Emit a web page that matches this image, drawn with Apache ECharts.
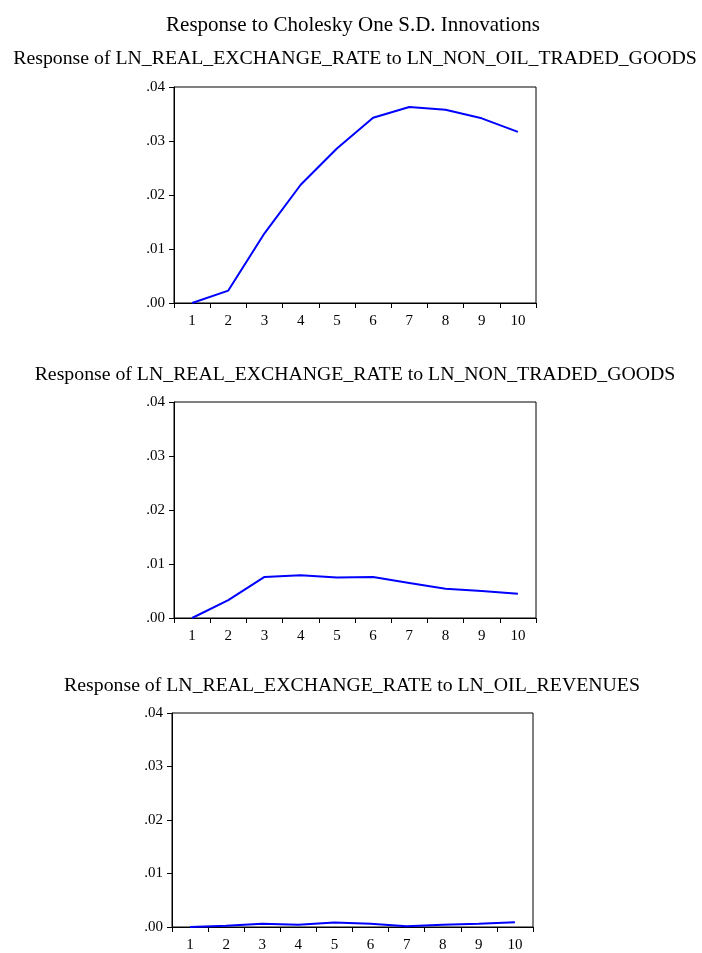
<!DOCTYPE html>
<html>
<head>
<meta charset="utf-8">
<script src="https://cdn.jsdelivr.net/npm/echarts@6/dist/echarts.min.js"></script>
<style>
html,body{margin:0;padding:0;background:#fff;}
#chart{width:702px;height:953px;}
</style>
</head>
<body>
<div id="chart"></div>
<script>
var periods = ['1','2','3','4','5','6','7','8','9','10'];
var yTicks = [0, 0.01, 0.02, 0.03, 0.04];
var mainTitle = 'Response to Cholesky One S.D. Innovations';
var panelTitles = [
  'Response of LN_REAL_EXCHANGE_RATE to LN_NON_OIL_TRADED_GOODS',
  'Response of LN_REAL_EXCHANGE_RATE to LN_NON_TRADED_GOODS',
  'Response of LN_REAL_EXCHANGE_RATE to LN_OIL_REVENUES'
];
var respNonOilTraded = [0.0000, 0.0023, 0.0129, 0.0219, 0.0286, 0.0343, 0.0363, 0.0358, 0.0342, 0.0317];
var respNonTraded    = [0.0000, 0.0033, 0.0076, 0.0079, 0.0075, 0.0076, 0.0065, 0.0054, 0.0050, 0.0045];
var respOilRevenues  = [0.0000, 0.00025, 0.0006, 0.0004, 0.00086, 0.0006, 0.00012, 0.0004, 0.0006, 0.0009];
var seriesData = [respNonOilTraded, respNonTraded, respOilRevenues];

var FONT = '"Liberation Serif", "Times New Roman", serif';
var grids = [
  {left: 174, top: 87, width: 362, height: 216},
  {left: 174, top: 402, width: 362, height: 216},
  {left: 172, top: 713, width: 361, height: 217}
];
var titleTops = [49, 365, 676];
var titleCenters = [355, 355, 352];

var chart = echarts.init(document.getElementById('chart'), null, {renderer: 'canvas'});
var option = {
  backgroundColor: '#fff',
  animation: false,
  title: [{
    text: mainTitle, left: 353, top: 15, textAlign: 'center', padding: 0,
    textStyle: {fontFamily: FONT, fontSize: 21, fontWeight: 'normal', color: '#000'}
  }].concat(panelTitles.map(function(t, i){
    return {text: t, left: titleCenters[i], top: titleTops[i], textAlign: 'center', padding: 0,
      textStyle: {fontFamily: FONT, fontSize: 19.8, fontWeight: 'normal', color: '#000'}};
  })),
  grid: grids.map(function(g){
    return {left: g.left, top: g.top, width: g.width, height: g.height, show: true,
      borderColor: '#000', borderWidth: 1, backgroundColor: '#fff', containLabel: false};
  }),
  xAxis: grids.map(function(g, i){
    return {type: 'category', gridIndex: i, data: periods, boundaryGap: true,
      axisLine: {show: true, lineStyle: {color: '#000', width: 1}},
      axisTick: {show: true, length: 5, lineStyle: {color: '#000'}},
      axisLabel: {fontFamily: FONT, fontSize: 15, color: '#000', margin: 11, interval: 0},
      splitLine: {show: false}};
  }),
  yAxis: grids.map(function(g, i){
    return {type: 'value', gridIndex: i, min: yTicks[0], max: yTicks[yTicks.length-1], interval: 0.01,
      axisLine: {show: true, lineStyle: {color: '#000', width: 1}},
      axisTick: {show: true, length: 5, lineStyle: {color: '#000'}},
      axisLabel: {fontFamily: FONT, fontSize: 15, color: '#000', margin: 9,
        formatter: function(v){ return v.toFixed(2).replace(/^0/, ''); }},
      splitLine: {show: false}};
  }),
  series: seriesData.map(function(d, i){
    return {type: 'line', xAxisIndex: i, yAxisIndex: i, data: d, symbol: 'none',
      lineStyle: {color: '#0000FF', width: 2}, itemStyle: {color: '#0000FF'}};
  })
};
chart.setOption(option);
</script>
</body>
</html>
